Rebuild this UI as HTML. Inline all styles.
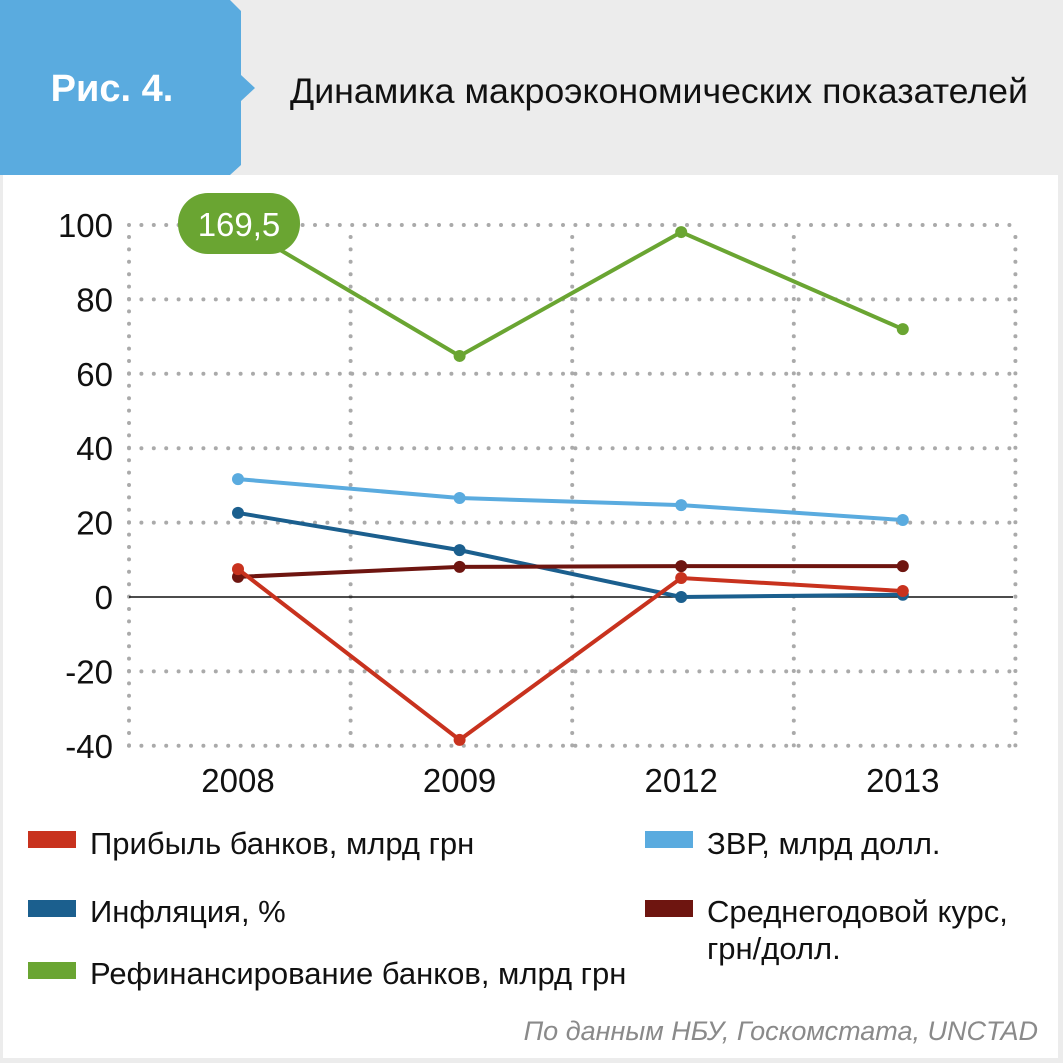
<!DOCTYPE html>
<html><head><meta charset="utf-8"><style>
body{margin:0;width:1063px;height:1063px;background:#ececec;overflow:hidden;font-family:"Liberation Sans","DejaVu Sans",sans-serif;}
svg{display:block}
</style></head><body>
<svg width="1063" height="1063">
<rect x="0" y="0" width="1063" height="1063" fill="#ececec"/>
<rect x="3" y="175" width="1055" height="883" fill="#ffffff"/>
<polygon points="0,0 230,0 241,11 241,75 255,88 241,101 241,165 230,175 0,175" fill="#5aabdf"/>
<text x="112" y="101" text-anchor="middle" font-size="38" font-weight="bold" fill="#fff">Рис. 4.</text>
<text x="290" y="103" font-size="35.5" fill="#111" textLength="738" lengthAdjust="spacingAndGlyphs">Динамика макроэкономических показателей</text>
<g id="grid"></g>
<g id="axes"></g>
<g id="series"></g>
<g>
<rect x="178" y="193" width="122" height="61" rx="30" fill="#6aa532"/>
<text x="239" y="236" text-anchor="middle" font-size="33" fill="#fff">169,5</text>
</g>
<g font-size="31" fill="#111">
<g><rect x="28" y="831" width="48" height="17" fill="#c8321e"/><text x="90" y="854">Прибыль банков, млрд грн</text></g>
<g><rect x="28" y="900" width="48" height="17" fill="#1b5f8e"/><text x="90" y="922">Инфляция, %</text></g>
<g><rect x="28" y="962" width="48" height="17" fill="#6aa532"/><text x="90" y="984">Рефинансирование банков, млрд грн</text></g>
<g><rect x="645" y="831" width="48" height="17" fill="#5aabdf"/><text x="707" y="854">ЗВР, млрд долл.</text></g>
<g><rect x="645" y="900" width="48" height="17" fill="#6e1510"/><text x="707" y="922">Среднегодовой курс,</text><text x="707" y="959">грн/долл.</text></g>
</g>
<text x="1038" y="1040" text-anchor="end" font-size="27" font-style="italic" fill="#8a8a8a">По данным НБУ, Госкомстата, UNCTAD</text>
</svg>
<script>
const categories=["2008","2009","2012","2013"];
const yTicks=[100,80,60,40,20,0,-20,-40];
const profit=[7.5,-38.4,5.1,1.6];
const inflation=[22.6,12.6,0,0.6];
const refinancing=[169.5,64.8,98.1,72];
const reserves=[31.7,26.6,24.7,20.7];
const rate=[5.4,8.1,8.3,8.3];
const NS="http://www.w3.org/2000/svg";
const x0=238,dx=221.6;
function xs(i){return x0+i*dx;}
function ys(v){return 597-v*3.72;}
function mk(t,a,p){const e=document.createElementNS(NS,t);for(const k in a)e.setAttribute(k,a[k]);p.appendChild(e);return e;}
const grid=document.getElementById('grid'),axes=document.getElementById('axes'),ser=document.getElementById('series');
const L=129,R=1013;
yTicks.forEach(v=>{
 if(v!==0){const l=mk('line',{x1:L,x2:R,y1:ys(v),y2:ys(v),stroke:'#aaa','stroke-width':4,'stroke-linecap':'round','stroke-dasharray':'0 12.4'},grid);
 
 }
 const t=mk('text',{x:113,y:ys(v)+12,'text-anchor':'end','font-size':33,fill:'#111'},axes);t.textContent=v;
 
 
});
for(let k=0;k<5;k++){const x=L+k*dx;const l=mk('line',{x1:x,x2:x,y1:ys(100)+12,y2:ys(-40),stroke:'#aaa','stroke-width':4,'stroke-linecap':'round','stroke-dasharray':'0 12.4'},grid);
 
 }
const z=mk('line',{x1:L,x2:R,y1:ys(0),y2:ys(0),stroke:'#111','stroke-width':1.5},axes);


categories.forEach((c,i)=>{const t=mk('text',{x:xs(i),y:792,'text-anchor':'middle','font-size':33,fill:'#111'},axes);t.textContent=c;
 
 });
function draw(data,color,name,clip){
 const g=mk('g',{},ser);
 
 
 const pts=data.map((v,i)=>[xs(i),ys(clip?Math.min(v,100):v)]);
 mk('polyline',{points:pts.map(p=>p.join(',')).join(' '),fill:'none',stroke:color,'stroke-width':4},g);
 pts.forEach((p,i)=>{if(clip&&data[i]>100)return;const c=mk('circle',{cx:p[0],cy:p[1],r:6,fill:color},g);
  
  });
}
draw(refinancing,'#6aa532','series-refinancing',true);
draw(reserves,'#5aabdf','series-reserves');
draw(inflation,'#1b5f8e','series-inflation');
draw(rate,'#6e1510','series-exchange-rate');
draw(profit,'#c8321e','series-profit');
</script>
</body></html>
